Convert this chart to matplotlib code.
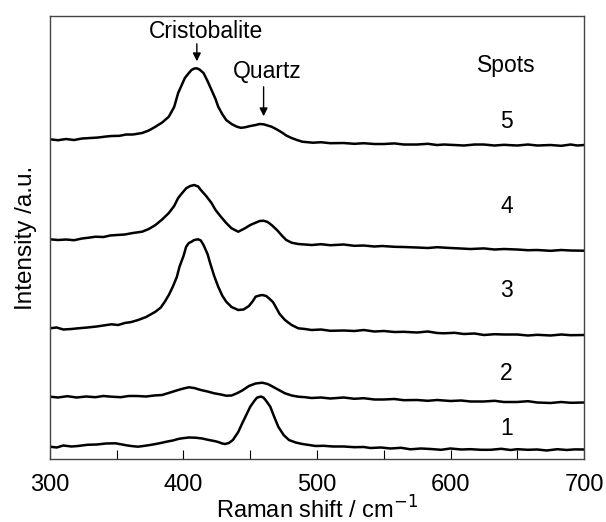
import matplotlib.pyplot as plt

plt.rcParams['font.family'] = ['Liberation Sans', 'DejaVu Sans']

# Raman spectra, offset per spot (a.u.)
x_spot1 = [300, 305, 310, 316, 321, 328, 335, 342, 349, 354, 358, 362, 366, 371, 375, 380, 384, 388,
           392, 396, 399, 404, 409, 414, 419, 423, 426, 429, 431, 434, 437, 441, 444, 447, 450, 453,
           455, 458, 460, 462, 465, 468, 471, 475, 479, 484, 489, 494, 499, 505, 512, 520, 528, 535,
           540, 548, 555, 563, 570, 578, 585, 593, 600, 608, 615, 623, 630, 638, 645, 650, 658, 665,
           672, 680, 687, 693, 700]
y_spot1 = [12.3, 11.5, 13.5, 12.5, 13, 14.2, 14.5, 15.5, 15.7, 14.5, 13.5, 12.8, 12.3, 13.2, 14, 15.2,
           16.3, 17.5, 18.5, 20, 20.7, 21.5, 21.3, 20.5, 19, 18, 17, 15.5, 15, 16, 19, 27, 35.7, 44,
           52.3, 58, 61.3, 62.5, 61.3, 58, 52.3, 42, 32.3, 24, 19, 16.5, 15, 14, 13, 13.2, 12.5, 12.5,
           11.8, 12, 11, 11.5, 10.5, 11.2, 9.7, 10.5, 10, 9.2, 10.5, 9.5, 9.8, 9.2, 9.2, 10.2, 9,
           9.8, 9.2, 9.5, 8.5, 9.8, 9, 9.6, 9.5]

x_spot2 = [300, 306, 313, 320, 327, 334, 340, 346, 353, 359, 365, 372, 378, 384, 390, 396, 400, 404,
           408, 413, 418, 423, 428, 432, 436, 440, 444, 449, 454, 459, 463, 466, 470, 476, 481, 486,
           491, 496, 503, 510, 520, 528, 535, 543, 550, 558, 565, 575, 583, 590, 600, 608, 615, 625,
           633, 640, 650, 658, 665, 675, 683, 690, 700]
y_spot2 = [62.3, 61.5, 62.8, 61.5, 62.5, 61.8, 63, 62.3, 61.8, 63, 63, 62.5, 63.5, 64, 66.5, 69, 70.5,
           71.7, 71, 69, 67.5, 65.7, 64.5, 63.3, 63.5, 65.7, 68.5, 73, 75.5, 76.3, 75, 73, 70, 65.7,
           63.5, 62.3, 61.8, 61, 61.5, 60.5, 61.5, 60.2, 60.8, 59.5, 59.5, 60, 58.8, 59, 58.2, 59,
           58, 58.5, 57.5, 57.5, 58.2, 57, 57, 57.8, 56.5, 56, 57, 56.2, 56.5]

x_spot3 = [300, 305, 310, 316, 321, 328, 335, 340, 346, 351, 356, 361, 366, 372, 379, 383, 386, 389,
           392, 395, 397, 400, 402, 404, 406, 408, 411, 413, 415, 418, 420, 423, 426, 429, 432, 436,
           441, 445, 449, 452, 454, 457, 459, 462, 464, 467, 469, 472, 476, 481, 486, 491, 496, 503,
           510, 520, 528, 535, 543, 550, 558, 565, 575, 583, 590, 595, 603, 610, 618, 625, 633, 640,
           650, 658, 665, 675, 683, 690, 700]
y_spot3 = [130.7, 131.5, 129.5, 130, 130.7, 131.5, 132.5, 133.5, 134.7, 134, 136, 137, 139, 142, 147.3,
           151.5, 157.3, 164, 172.3, 182, 192.3, 203, 212.3, 216, 217.3, 219, 219.7, 218.5, 214, 205,
           195.7, 183, 172.3, 163.5, 157.3, 152, 149, 149.5, 153, 158, 162.3, 163.5, 164, 163, 160.7,
           157, 152.3, 145, 139, 134, 130.7, 130, 129, 129.5, 128.2, 128.5, 128, 129, 127.5, 128,
           127, 127.2, 126.5, 127.5, 126, 125.7, 126.2, 125, 125.5, 124, 124.8, 124.5, 124.5, 123.5,
           124.2, 123.5, 124.5, 123.8, 124]

x_spot4 = [300, 306, 312, 318, 324, 330, 334, 340, 345, 350, 356, 362, 369, 374, 379, 384, 389, 393,
           396, 399, 402, 405, 408, 411, 413, 417, 421, 424, 428, 432, 436, 441, 446, 450, 454, 457,
           460, 463, 466, 470, 474, 477, 481, 486, 491, 496, 503, 510, 520, 528, 535, 543, 549, 558,
           565, 575, 583, 590, 600, 608, 615, 625, 633, 640, 650, 658, 665, 675, 683, 690, 700]
y_spot4 = [219.7, 219, 219.5, 218.8, 220.5, 221.5, 222.3, 222, 223.5, 224, 224.5, 226, 227.3, 230, 234,
           239.5, 246, 253, 261, 266, 270.7, 273, 274, 272.5, 269, 263, 256, 249, 242.3, 236, 230.7,
           227.3, 230.7, 234, 236.3, 238, 238.3, 237, 234, 229, 223, 219, 216.3, 215, 214.5, 214,
           214.8, 213.8, 214.5, 213.2, 213.5, 212.5, 213, 212.2, 212, 211.5, 211, 211.8, 211, 210.5,
           210, 210.6, 209.5, 210, 209.5, 208.8, 209, 208.2, 209, 208.5, 208.3]

x_spot5 = [300, 306, 312, 318, 324, 330, 336, 342, 346, 352, 357, 362, 369, 374, 379, 384, 389, 393,
           396, 399, 401, 404, 406, 408, 410, 412, 415, 418, 421, 424, 426, 429, 432, 436, 440, 443,
           446, 450, 454, 457, 460, 463, 466, 470, 474, 477, 481, 485, 489, 493, 497, 503, 510, 520,
           528, 535, 543, 550, 558, 565, 575, 583, 590, 595, 603, 610, 618, 625, 633, 640, 650, 658,
           665, 675, 683, 690, 695, 700]
y_spot5 = [319.7, 318.8, 320, 319, 320.5, 321, 321.5, 322.5, 323, 323.2, 324.5, 324.5, 326, 328.5, 332.3,
           336.5, 342.3, 352, 366, 375, 381, 386, 389, 390.5, 390.7, 389.5, 386, 378, 369, 360, 352.3,
           345, 339, 335, 332.3, 331.2, 331.7, 333, 334, 335, 334.7, 333.5, 332.3, 329.5, 326.3, 323.5,
           321, 319, 317.3, 316.8, 316.3, 316.8, 315.8, 316, 315.2, 315.8, 315, 315, 315.6, 314.5,
           314.5, 315.2, 314, 314.5, 314, 313.5, 314.5, 314.5, 313.5, 314.2, 313.5, 314.5, 313.5, 314,
           313.2, 314.5, 313.5, 314]

spot_labels = ['1', '2', '3', '4', '5']
spot_label_y = [30.7, 85.7, 169, 253, 337.3]

fig = plt.figure(figsize=(6.06, 5.22), dpi=100)
ax = fig.add_axes([0.0825, 0.1207, 0.8812, 0.8486])

for xs, ys in [(x_spot1, y_spot1), (x_spot2, y_spot2), (x_spot3, y_spot3),
               (x_spot4, y_spot4), (x_spot5, y_spot5)]:
    ax.plot(xs, ys, color='black', lw=1.8, solid_joinstyle='round')

for lab, yl in zip(spot_labels, spot_label_y):
    ax.text(642, yl, lab, ha='center', va='center', fontsize=16.5)
ax.text(642, 394, 'Spots', ha='center', va='center', fontsize=16.5)

# peak annotations
ax.text(417, 428, 'Cristobalite', ha='center', va='center', fontsize=16.5)
ax.annotate('', xy=(410, 395), xytext=(410, 418),
            arrowprops=dict(arrowstyle='-|>', color='black', lw=1, mutation_scale=12))
ax.text(463, 388, 'Quartz', ha='center', va='center', fontsize=16.5)
ax.annotate('', xy=(460, 340), xytext=(460, 375),
            arrowprops=dict(arrowstyle='-|>', color='black', lw=1, mutation_scale=12))

ax.set_xlim(300, 700)
ax.set_ylim(0, 443)
ax.set_xticks([300, 400, 500, 600, 700])
ax.set_xticks([350, 450, 550, 650], minor=True)
ax.tick_params(axis='x', which='both', direction='in', length=6.5, width=0.8, labelsize=17, pad=11)
ax.set_yticks([])
for s in ax.spines.values():
    s.set_linewidth(1.0)
    s.set_color('#444444')

ax.set_xlabel('Raman shift / cm$^{-1}$', fontsize=17, labelpad=0)
ax.set_ylabel('Intensity /a.u.', fontsize=17.5, labelpad=9)

plt.savefig('out.png', dpi=100)
